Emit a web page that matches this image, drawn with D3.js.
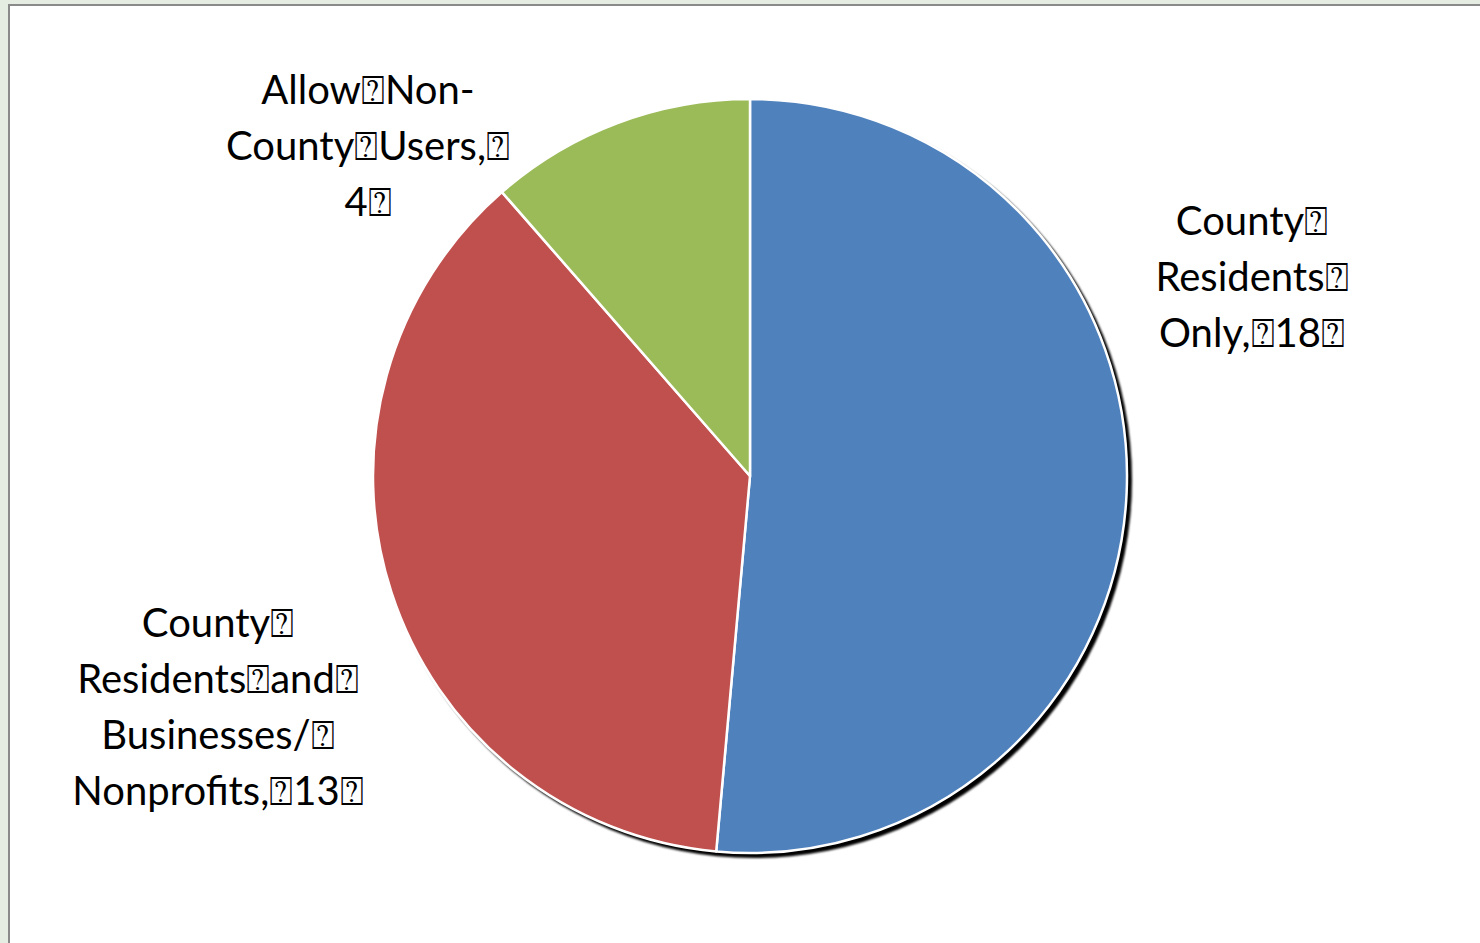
<!DOCTYPE html>
<html>

<head>
    <style>
        body {
            margin: 0;
            background: #e5ece2;
        }

        .label {
            font-size: 40px;
            font-family: Lato, "Open Sans", sans-serif;
            fill: #000;
        }
    </style>
    <script src="https://d3js.org/d3.v7.min.js" charset="utf-8"></script>
</head>

<body>
    <script>
        // data
        const categories = ["County Residents Only", "County Residents and Businesses/Nonprofits", "Allow Non-County Users"];
        const values = [18, 13, 4];
        const colors = ["#4f81bd", "#c0504d", "#9bbb59"];
        // label lines as shown (the box glyphs stand for unrenderable spaces)
        const labelLines = [
            ["County\u2370", "Residents\u2370", "Only,\u237018\u2370"],
            ["County\u2370", "Residents\u2370and\u2370", "Businesses/\u2370", "Nonprofits,\u237013\u2370"],
            ["Allow\u2370Non-", "County\u2370Users,\u2370", "4\u2370"]
        ];

        const w = 1480;
        const h = 943;
        const cx = 750, cy = 476, radius = 377;
        const lineGap = 56;
        // label block centres (x, first baseline)
        const labelAnchor = [[1252, 235], [218, 637], [368, 104]];

        const svg = d3.select("body")
            .append("svg")
            .attr("width", w)
            .attr("height", h)
            .style("display", "block");

        // chart frame
        svg.append("rect")
            .attr("x", 9)
            .attr("y", 5)
            .attr("width", w)
            .attr("height", h)
            .attr("fill", "#fff")
            .attr("stroke", "#8a8a8a")
            .attr("stroke-width", 2);

        const defs = svg.append("defs");
        const filter = defs.append("filter")
            .attr("id", "shadow")
            .attr("x", "-10%").attr("y", "-10%")
            .attr("width", "120%").attr("height", "120%");
        filter.append("feGaussianBlur").attr("stdDeviation", 1);

        const pie = d3.pie().sort(null).value((d) => d);
        const arcs = pie(values);
        const arc = d3.arc().innerRadius(0).outerRadius(radius);

        const g = svg.append("g")
            .attr("transform", "translate(" + cx + "," + cy + ")");

        // drop shadow of the whole pie
        g.append("circle")
            .attr("cx", 4)
            .attr("cy", 4)
            .attr("r", radius + 1)
            .attr("fill", "#000")
            .attr("filter", "url(#shadow)");

        g.selectAll("path")
            .data(arcs)
            .enter()
            .append("path")
            .attr("d", arc)
            .attr("fill", (d, i) => colors[i])
            .attr("stroke", "#fff")
            .attr("stroke-width", 2.5)
            .attr("stroke-linejoin", "round")
            .append("title")
            .text((d, i) => categories[i] + ", " + d.data);

        const labels = svg.selectAll("text.label")
            .data(labelLines)
            .enter()
            .append("text")
            .attr("class", "label")
            .attr("text-anchor", "middle");

        labels.selectAll("tspan")
            .data((d, i) => d.map((t) => ({ t: t, i: i })))
            .enter()
            .append("tspan")
            .attr("x", (d) => labelAnchor[d.i][0])
            .attr("y", (d, j) => labelAnchor[d.i][1] + j * lineGap)
            .text((d) => d.t);
    </script>
</body>

</html>
